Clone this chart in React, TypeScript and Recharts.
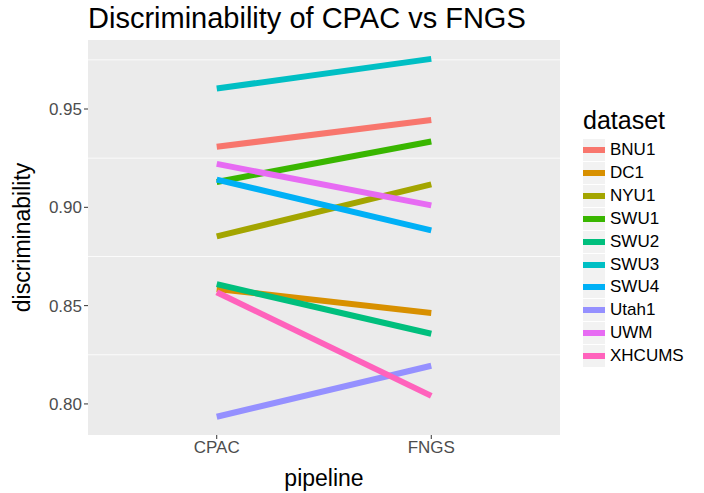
import { LineChart, Line, XAxis, YAxis, CartesianGrid, ReferenceLine } from "recharts";

const pipelines = ["CPAC", "FNGS"];
const datasets = ["BNU1", "DC1", "NYU1", "SWU1", "SWU2", "SWU3", "SWU4", "Utah1", "UWM", "XHCUMS"];
const colors = ["#F8766D", "#D89000", "#A3A500", "#39B600", "#00BF7D", "#00BFC4", "#00B0F6", "#9590FF", "#E76BF3", "#FF62BC"];
const cpacValues = [0.9308, 0.8585, 0.8852, 0.9129, 0.8609, 0.9604, 0.9141, 0.7935, 0.9221, 0.8568];
const fngsValues = [0.9444, 0.8463, 0.9117, 0.9335, 0.8357, 0.9755, 0.8883, 0.8194, 0.901, 0.8041];
const yTicks = [0.8, 0.85, 0.9, 0.95];
const yMinor = [0.825, 0.875, 0.925, 0.975];

const data = pipelines.map((p, i) => {
  const row: Record<string, number | string> = { x: i + 1, name: p };
  datasets.forEach((d, j) => {
    row[d] = i === 0 ? cpacValues[j] : fngsValues[j];
  });
  return row;
});

const font = "'Liberation Sans', Arial, sans-serif";

export default function App() {
  return (
    <div style={{ position: "absolute", left: 0, top: 0, width: 704, height: 493, background: "#fff", fontFamily: font }}>
      <div style={{ position: "absolute", left: 88, top: 2, fontSize: 29, color: "#000" }}>
        Discriminability of CPAC vs FNGS
      </div>
      <LineChart width={704} height={493} data={data} margin={{ top: 40, right: 144, left: 0, bottom: 0 }}>
        <rect x={88} y={40} width={472} height={395} fill="#EBEBEB" />
        {yMinor.map((v) => (
          <ReferenceLine key={v} y={v} stroke="#fff" strokeWidth={0.8} />
        ))}
        <CartesianGrid stroke="#fff" strokeWidth={1.6} fill="#EBEBEB" />
        <XAxis
          dataKey="x"
          type="number"
          domain={[0.4, 2.6]}
          ticks={[1, 2]}
          tickFormatter={(v) => pipelines[v - 1]}
          height={58}
          tick={{ fill: "#4D4D4D", fontSize: 17, fontFamily: font }}
          tickLine={{ stroke: "#333" }}
          tickSize={4}
          axisLine={false}
          label={{ value: "pipeline", position: "insideBottom", offset: 7, fill: "#000", fontSize: 23, fontFamily: font }}
        />
        <YAxis
          type="number"
          domain={[0.7842, 0.9851]}
          ticks={yTicks}
          tickFormatter={(v) => v.toFixed(2)}
          width={88}
          tick={{ fill: "#4D4D4D", fontSize: 17, fontFamily: font }}
          tickLine={{ stroke: "#333" }}
          tickSize={4}
          axisLine={false}
          label={{ value: "discriminability", angle: -90, position: "insideLeft", offset: 22, fill: "#000", fontSize: 23, fontFamily: font, style: { textAnchor: "middle" } }}
        />
        {datasets.map((d, j) => (
          <Line key={d} dataKey={d} stroke={colors[j]} strokeWidth={6} dot={false} isAnimationActive={false} type="linear" />
        ))}
      </LineChart>
      <div style={{ position: "absolute", left: 583, top: 106, fontSize: 25, color: "#000" }}>dataset</div>
      {datasets.map((d, j) => (
        <div key={d} style={{ position: "absolute", left: 583, top: 139 + j * 22.9, height: 22, display: "flex", alignItems: "center" }}>
          <div style={{ width: 22, height: 22, background: "#F2F2F2", display: "flex", alignItems: "center" }}>
            <div style={{ width: 22, height: 6, background: colors[j] }} />
          </div>
          <span style={{ marginLeft: 5, fontSize: 17, color: "#000" }}>{d}</span>
        </div>
      ))}
    </div>
  );
}
